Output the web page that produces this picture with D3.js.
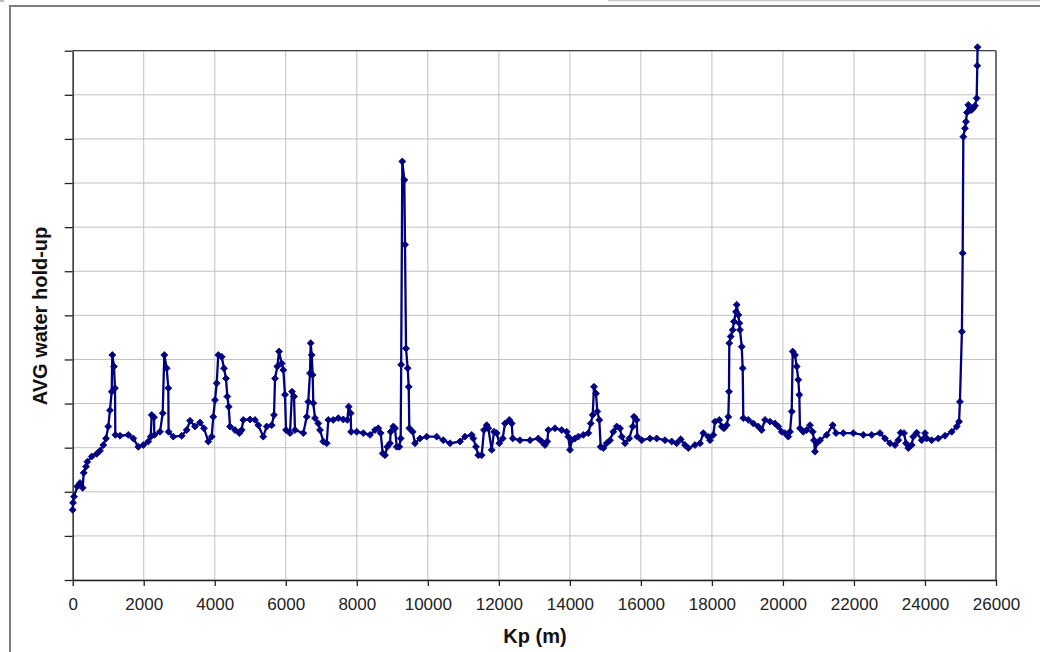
<!DOCTYPE html>
<html>
<head>
<meta charset="utf-8">
<script src="https://cdn.jsdelivr.net/npm/d3@7"></script>
<style>
  html, body { margin: 0; padding: 0; background: #fff; }
  svg { display: block; }
  text { font-family: "Liberation Sans", Arial, sans-serif; }
</style>
</head>
<body>
<svg id="chart" width="1040" height="652"></svg>
<script>
// ---- data ----
const kp = [
  0, 10, 37, 130, 206, 280, 310, 375, 411, 535, 676, 769, 862, 938, 1002, 1050, 1098, 1115, 1163, 1191,
  1200, 1332, 1566, 1707, 1847, 1988, 2129, 2196, 2225, 2289, 2300, 2458, 2534, 2579, 2647, 2692,
  2700, 2833, 3070, 3210, 3303, 3444, 3585, 3697, 3819, 3914, 3959, 4007, 4055, 4100, 4196, 4260,
  4317, 4354, 4393, 4430, 4570, 4691, 4759, 4804, 4993, 5133, 5227, 5367, 5463, 5604, 5669, 5697,
  5762, 5810, 5885, 5931, 5978, 6007, 6119, 6176, 6232, 6260, 6494, 6590, 6634, 6682, 6702, 6730,
  6758, 6775, 6823, 6916, 6964, 7058, 7153, 7198, 7338, 7479, 7620, 7733, 7772, 7828, 7840, 7997,
  8183, 8372, 8513, 8606, 8673, 8730, 8794, 8859, 8935, 8955, 9028, 9076, 9124, 9197, 9236, 9250,
  9282, 9338, 9358, 9386, 9433, 9462, 9479, 9574, 9639, 9780, 9969, 10250, 10436, 10625, 10906,
  11047, 11236, 11281, 11356, 11421, 11517, 11582, 11658, 11703, 11799, 11864, 11940, 12013, 12109,
  12174, 12295, 12362, 12391, 12596, 12878, 13111, 13207, 13300, 13365, 13393, 13582, 13770, 13911,
  13956, 14004, 14052, 14145, 14238, 14379, 14519, 14587, 14643, 14680, 14736, 14773, 14829, 14868,
  14942, 15037, 15130, 15223, 15319, 15412, 15460, 15553, 15674, 15770, 15806, 15882, 15900, 16023,
  16257, 16445, 16679, 16868, 17009, 17121, 17242, 17335, 17524, 17665, 17758, 17899, 17947, 18039,
  18087, 18208, 18276, 18341, 18417, 18462, 18481, 18490, 18529, 18586, 18622, 18679, 18698, 18745,
  18773, 18791, 18839, 18867, 18884, 19025, 19166, 19306, 19402, 19495, 19636, 19777, 19870, 19965,
  20058, 20151, 20199, 20247, 20275, 20340, 20388, 20433, 20461, 20480, 20573, 20669, 20762, 20838,
  20875, 20903, 20951, 21044, 21233, 21402, 21495, 21700, 21982, 22263, 22500, 22733, 22874, 23015,
  23156, 23249, 23316, 23409, 23466, 23530, 23626, 23671, 23767, 23908, 24001, 24049, 24189, 24375,
  24564, 24753, 24894, 24960, 24984, 25040, 25062, 25080, 25127, 25155, 25183, 25220, 25267, 25315,
  25360, 25408, 25456, 25473, 25480
];
const holdup = [
  1.59, 1.75, 1.89, 2.12, 2.20, 2.09, 2.43, 2.57, 2.68, 2.80, 2.86, 2.93, 3.06, 3.21, 3.48, 3.85, 4.27, 5.10, 4.84, 4.35,
  3.29, 3.27, 3.29, 3.21, 3.02, 3.06, 3.14, 3.25, 3.74, 3.69, 3.29, 3.36, 3.78, 5.10, 4.80, 4.35,
  3.36, 3.25, 3.27, 3.40, 3.61, 3.48, 3.57, 3.44, 3.14, 3.25, 3.70, 4.08, 4.46, 5.10, 5.06, 4.80,
  4.57, 4.16, 3.93, 3.48, 3.40, 3.33, 3.40, 3.63, 3.64, 3.63, 3.51, 3.25, 3.48, 3.51, 3.74, 4.57,
  4.84, 5.18, 4.91, 4.76, 4.20, 3.40, 3.33, 4.27, 4.16, 3.40, 3.33, 3.70, 4.04, 4.69, 5.37, 5.10,
  4.65, 4.01, 3.67, 3.55, 3.40, 3.14, 3.10, 3.63, 3.63, 3.67, 3.64, 3.63, 3.93, 3.78, 3.36, 3.36,
  3.33, 3.29, 3.40, 3.44, 3.33, 2.87, 2.83, 3.02, 3.10, 3.36, 3.48, 3.44, 3.02, 3.02, 3.21, 4.88,
  9.49, 9.07, 7.60, 5.25, 4.80, 4.38, 3.44, 3.36, 3.10, 3.21, 3.25, 3.25, 3.17, 3.10, 3.14,
  3.25, 3.29, 3.21, 3.02, 2.83, 2.83, 3.40, 3.51, 3.44, 2.95, 3.36, 3.33, 3.10, 3.21,
  3.55, 3.63, 3.55, 3.21, 3.17, 3.17, 3.21, 3.14, 3.06, 3.14, 3.40, 3.44, 3.40, 3.36,
  3.25, 2.95, 3.17, 3.21, 3.25, 3.29, 3.33, 3.55, 3.74, 4.38, 4.23, 3.82, 3.63, 3.02,
  2.99, 3.10, 3.17, 3.36, 3.48, 3.44, 3.25, 3.10, 3.21, 3.48, 3.70, 3.63, 3.25, 3.17,
  3.21, 3.21, 3.17, 3.14, 3.10, 3.19, 3.06, 2.99, 3.06, 3.10, 3.33, 3.25, 3.17, 3.29,
  3.59, 3.63, 3.48, 3.44, 3.51, 3.70, 4.27, 5.37, 5.52, 5.67, 5.86, 6.08, 6.24, 6.01,
  5.82, 5.67, 5.29, 4.80, 3.67, 3.63, 3.55, 3.48, 3.40, 3.63, 3.59, 3.55, 3.48, 3.36,
  3.33, 3.25, 3.36, 3.82, 5.18, 5.10, 4.84, 4.54, 4.20, 3.44, 3.36, 3.40, 3.51, 3.36,
  3.17, 2.91, 3.10, 3.17, 3.29, 3.51, 3.33, 3.33, 3.33, 3.29, 3.29, 3.33, 3.21, 3.10,
  3.06, 3.17, 3.34, 3.33, 3.10, 2.99, 3.06, 3.25, 3.34, 3.17, 3.33, 3.21, 3.17, 3.21,
  3.27, 3.36, 3.48, 3.59, 4.04, 5.63, 7.41, 10.05, 10.24, 10.39, 10.60, 10.77, 10.65, 10.66,
  10.70, 10.75, 10.92, 11.66, 12.08
];
const xTicks = [0, 2000, 4000, 6000, 8000, 10000, 12000, 14000, 16000, 18000, 20000, 22000, 24000, 26000];
const yTicks = [0, 1, 2, 3, 4, 5, 6, 7, 8, 9, 10, 11, 12];
const xTitle = "Kp (m)";
const yTitle = "AVG water hold-up";

// ---- layout ----
const svg = d3.select("#chart");
const L = 72.7, R = 996, T = 50.7, B = 580;
const x = d3.scaleLinear().domain([0, 26000]).range([L, R]);
const y = d3.scaleLinear().domain([0, 12]).range([B, T]);

// outer frame + artifacts
svg.append("line").attr("x1", 608).attr("x2", 1040).attr("y1", 0.5).attr("y2", 0.5)
  .attr("stroke", "#c8c8c8").attr("stroke-width", 1.5);
svg.append("rect").attr("x", 0).attr("y", 0).attr("width", 4).attr("height", 2).attr("fill", "#bbb");
svg.append("rect").attr("x", 10).attr("y", 6).attr("width", 1100).attr("height", 700)
  .attr("fill", "none").attr("stroke", "#7f7f7f").attr("stroke-width", 2);

// gridlines
const grid = svg.append("g");
grid.selectAll("line.h").data(yTicks).join("line")
  .attr("x1", L).attr("x2", R).attr("y1", d => y(d)).attr("y2", d => y(d))
  .attr("stroke", "#c0c0c0").attr("stroke-width", 1);
grid.selectAll("line.v").data(xTicks).join("line")
  .attr("y1", T).attr("y2", B).attr("x1", d => x(d)).attr("x2", d => x(d))
  .attr("stroke", "#c0c0c0").attr("stroke-width", 1);

// plot area border (top/right)
svg.append("line").attr("x1", L).attr("x2", R).attr("y1", T).attr("y2", T)
  .attr("stroke", "#404040").attr("stroke-width", 1.3);
svg.append("line").attr("x1", R).attr("x2", R).attr("y1", T).attr("y2", B)
  .attr("stroke", "#707070").attr("stroke-width", 2);

// axes
const xAxis = d3.axisBottom(x).tickValues(xTicks).tickFormat(d => String(d))
  .tickSizeInner(6).tickSizeOuter(0).tickPadding(12);
const gx = svg.append("g").attr("transform", `translate(0,${B})`).call(xAxis);
gx.select(".domain").attr("stroke", "#222").attr("stroke-width", 1.3);
gx.selectAll(".tick line").attr("stroke", "#222").attr("stroke-width", 1.3);
gx.selectAll(".tick text").attr("fill", "#222").style("font-size", "17px")
  .style("font-family", "'Liberation Sans', Arial, sans-serif");

const yAxis = d3.axisLeft(y).tickValues(yTicks).tickFormat("").tickSizeInner(8).tickSizeOuter(0);
const gy = svg.append("g").attr("transform", `translate(${L},0)`).call(yAxis);
gy.select(".domain").attr("stroke", "#222").attr("stroke-width", 1.3);
gy.selectAll(".tick line").attr("stroke", "#222").attr("stroke-width", 1.3);

// titles
svg.append("text").attr("x", 535).attr("y", 643).attr("text-anchor", "middle")
  .style("font-size", "20px").style("font-weight", "bold").attr("fill", "#111").text(xTitle);
svg.append("text").attr("transform", `translate(47,316) rotate(-90)`).attr("text-anchor", "middle")
  .style("font-size", "20px").style("font-weight", "bold").attr("fill", "#111").text(yTitle);

// series
const pts = kp.map((k, i) => [k, holdup[i]]);
const line = d3.line().x(d => x(d[0])).y(d => y(d[1]));
svg.append("path").datum(pts).attr("d", line)
  .attr("fill", "none").attr("stroke", "#000080").attr("stroke-width", 2.3).attr("stroke-linejoin", "round");
const sym = d3.symbol().type(d3.symbolSquare).size(24);
svg.append("g").selectAll("path").data(pts).join("path")
  .attr("d", sym)
  .attr("transform", d => `translate(${x(d[0])},${y(d[1])}) rotate(45)`)
  .attr("fill", "#000080").attr("stroke", "#000080").attr("stroke-width", 0.8);
</script>
</body>
</html>
